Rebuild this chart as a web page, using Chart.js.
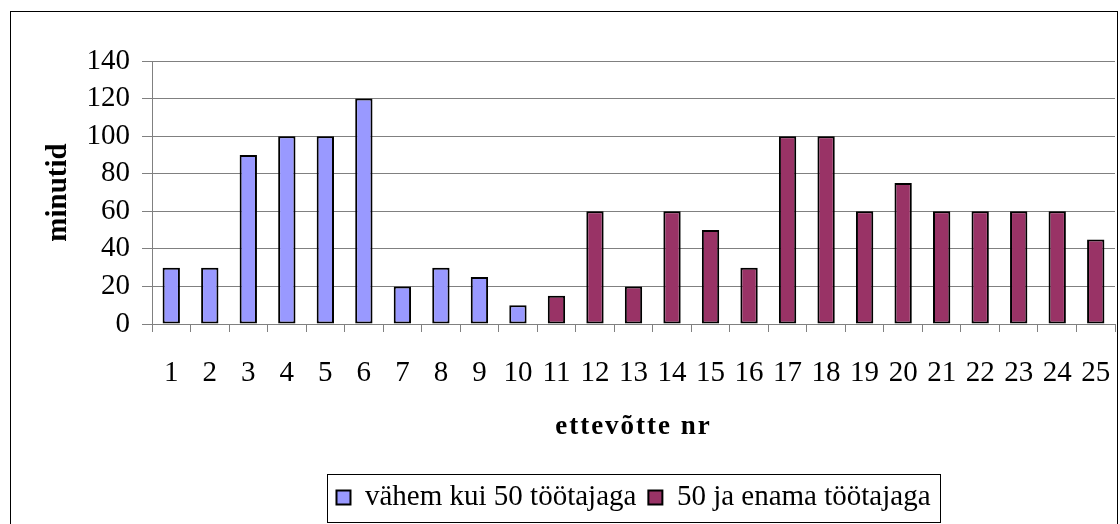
<!DOCTYPE html>
<html><head><meta charset="utf-8">
<script src="https://cdn.jsdelivr.net/npm/chart.js@4/dist/chart.umd.min.js"></script>
<style>html,body{margin:0;padding:0;background:#fff}#wrap{width:1120px;height:524px;position:relative}</style>
</head><body><div id="wrap"><canvas id="c" width="1120" height="524"></canvas></div>
<script>
const categories = ['1','2','3','4','5','6','7','8','9','10','11','12','13','14','15','16','17','18','19','20','21','22','23','24','25'];
const smallFirms = [30,30,90,100,100,120,20,30,25,10,null,null,null,null,null,null,null,null,null,null,null,null,null,null,null];
const largeFirms = [null,null,null,null,null,null,null,null,null,null,15,60,20,60,50,30,100,100,60,75,60,60,60,60,45];
const yTickValues = [0,20,40,60,80,100,120,140];
const seriesNames = ['vähem kui 50 töötajaga','50 ja enama töötajaga'];
const xTitle = 'ettevõtte nr';
const yTitle = 'minutid';

const FONT = "'Liberation Serif','Times New Roman',serif";

const decor = {
  id: 'decor',
  beforeDraw(chart) {
    const ctx = chart.ctx;
    ctx.save();
    ctx.fillStyle = '#fff';
    ctx.fillRect(0, 0, chart.width, chart.height);
    ctx.strokeStyle = '#000';
    ctx.lineWidth = 1;
    ctx.strokeRect(10.5, 11.5, 1107, 530);
    ctx.restore();
  },
  afterDraw(chart) {
    const ctx = chart.ctx;
    const ca = chart.chartArea;
    ctx.save();
    ctx.font = "bold 27px " + FONT;
    ctx.fillStyle = '#000';
    ctx.textAlign = 'center';
    ctx.textBaseline = 'middle';
    try { ctx.letterSpacing = '2px'; } catch (e) {}
    ctx.fillText(xTitle, (ca.left + ca.right) / 2, 427);
    try { ctx.letterSpacing = '0px'; } catch (e) {}
    const lg = chart.legend;
    if (lg && lg.legendHitBoxes && lg.legendHitBoxes.length) {
      let l = Infinity, r = -Infinity;
      lg.legendHitBoxes.forEach(h => { l = Math.min(l, h.left); r = Math.max(r, h.left + h.width); });
      ctx.strokeStyle = '#000';
      ctx.lineWidth = 1;
      ctx.strokeRect(Math.round(l - 9) + 0.5, 474.5, Math.round(r - l + 19), 48);
    }
    ctx.restore();
  }
};

new Chart(document.getElementById('c'), {
  type: 'bar',
  data: {
    labels: categories,
    datasets: [
      { label: seriesNames[0], data: smallFirms, backgroundColor: '#9999FF', borderColor: '#000', borderWidth: 2, borderSkipped: false, grouped: false, barPercentage: 0.45, categoryPercentage: 1 },
      { label: seriesNames[1], data: largeFirms, backgroundColor: '#993366', borderColor: '#000', borderWidth: 2, borderSkipped: false, grouped: false, barPercentage: 0.45, categoryPercentage: 1 }
    ]
  },
  options: {
    responsive: false,
    animation: false,
    devicePixelRatio: 1,
    layout: { padding: { top: 61, right: 5, left: 0, bottom: 2 } },
    plugins: {
      tooltip: { enabled: false },
      legend: {
        position: 'bottom',
        fullSize: false,
        labels: {
          color: '#000',
          font: { family: FONT, size: 29 },
          boxWidth: 14,
          boxHeight: 14,
          padding: 12
        }
      }
    },
    scales: {
      x: {
        grid: { offset: true, drawOnChartArea: false, color: '#808080', tickLength: 8, lineWidth: 1 },
        border: { color: '#808080', width: 1 },
        ticks: { color: '#000', font: { family: FONT, size: 29 }, padding: 24, maxRotation: 0, autoSkip: false },
        afterFit(scale) { scale.height = 147; scale.paddingLeft = 0; scale.paddingRight = 0; }
      },
      y: {
        min: 0, max: 140,
        afterBuildTicks(scale) { scale.ticks = yTickValues.map(v => ({ value: v })); },
        grid: { color: '#808080', tickLength: 10, lineWidth: 1 },
        border: { color: '#808080', width: 1 },
        ticks: { color: '#000', font: { family: FONT, size: 29 }, padding: 12, autoSkip: false },
        title: { display: true, text: yTitle, color: '#000', font: { family: FONT, size: 29, weight: 'bold' }, padding: { top: 41, bottom: 0 } },
        afterFit(scale) { scale.width = 152; }
      }
    }
  },
  plugins: [decor]
});
</script>
</body></html>
